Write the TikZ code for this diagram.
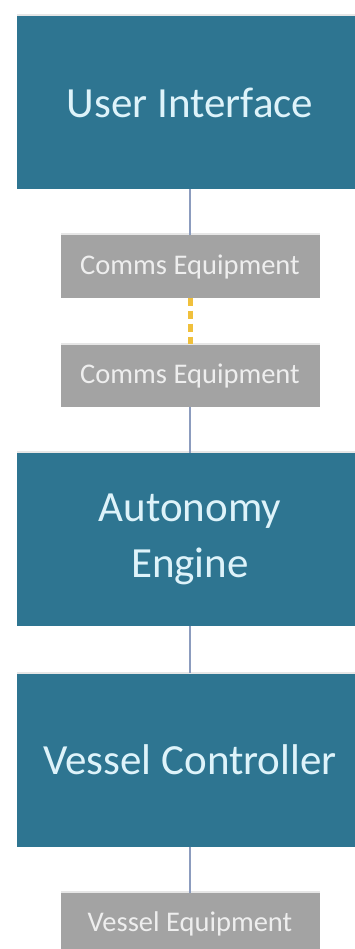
\documentclass[tikz,border=0pt]{standalone}
\usepackage{fontspec}
\setmainfont{Carlito}
\usetikzlibrary{shadows}
\definecolor{blockblue}{RGB}{46,117,145}
\definecolor{blocktext}{RGB}{222,243,250}
\definecolor{equipgray}{RGB}{163,163,163}
\definecolor{equiptext}{RGB}{238,238,238}
\definecolor{linkblue}{RGB}{140,156,190}
\definecolor{radioyellow}{RGB}{240,192,60}

\begin{document}
\begin{tikzpicture}[x=1pt,y=1pt,node distance=164pt,
        block/.style={rectangle,fill=blockblue,text=blocktext,minimum width=346pt,minimum height=173pt,
          align=center,font=\fontsize{43}{56}\selectfont,
          drop shadow={shadow xshift=0pt,shadow yshift=2pt,opacity=.2}},
        equip/.style={rectangle,fill=equipgray,text=equiptext,minimum width=259pt,minimum height=62pt,
          font=\fontsize{28.5}{32}\selectfont,
          drop shadow={shadow xshift=0pt,shadow yshift=2pt,opacity=.2}},
        link/.style={draw=linkblue,line width=1.3pt},
        radio/.style={draw=radioyellow,line width=5pt,dash pattern=on 8pt off 5pt}]
        \useasboundingbox (0,0) rectangle (354,-949);
        \node[block]  (ui) at (190,-102.5) {User Interface};
        \node[equip]  (c1) [below of=ui] {Comms Equipment};
        \node[equip]  (c2) [below of=c1,node distance=109pt] {Comms Equipment};
        \node[block]  (ae) [below of=c2] {Autonomy\\Engine};
        \node[block]  (vc) [below of=ae,node distance=220.5pt] {Vessel Controller};
        \node[equip]  (ve) [below of=vc] {Vessel Equipment};
        \path
          (ui) edge[link] (c1)
          (c1) edge[radio] (c2)
          (c2) edge[link] (ae)
          (ae) edge[link] (vc)
          (vc) edge[link] (ve)
          ;
      \end{tikzpicture}
\end{document}
